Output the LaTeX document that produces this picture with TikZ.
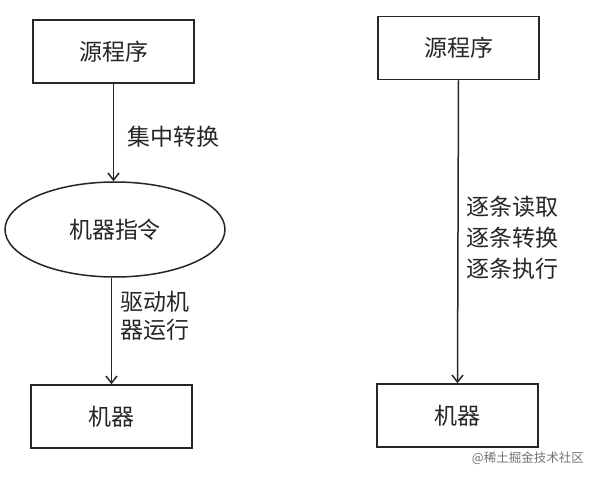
\documentclass[tikz,border=0pt]{standalone}
\usepackage{fontspec}
\setmainfont{Noto Sans CJK SC}
\usetikzlibrary{arrows.meta,shapes.geometric}
\tikzset{
  boxnode/.style={draw=black!85, line width=1.5pt, minimum width=161pt, minimum height=63pt, inner sep=0pt, font=\fontsize{23}{26}\selectfont, text=black!85},
  ellnode/.style={ellipse, draw=black!85, line width=1.5pt, minimum width=220pt, minimum height=95pt, inner sep=0pt, font=\fontsize{23}{26}\selectfont, text=black!85},
  arr/.style={draw=black!85, line width=1.5pt, -{Straight Barb[length=7pt,width=11pt,line width=1.5pt]}},
  lbl/.style={inner sep=0pt, anchor=west, align=left, text=black!85},
}
\begin{document}
\begin{tikzpicture}[x=1pt,y=-1pt]
\useasboundingbox (0,0) rectangle (598,479);
\fill[white] (0,0) rectangle (598,479);
% left column
\node[boxnode] (tl) at (113.5,51.5) {源程序};
\node[ellnode] (ell) at (115,229.5) {机器指令};
\node[boxnode] (bl) at (111.5,416.5) {机器};
\draw[arr] (tl.south) -- (tl.south |- ell.north);
\draw[arr] (bl.north |- ell.south) -- (bl.north);
\node[lbl, font=\fontsize{23}{26}\selectfont] (l1) at (127,137) {集中转换};
\node[lbl, font=\fontsize{23}{28}\selectfont] (l2) at (120,316) {驱动机\\器运行};
% right column
\node[boxnode] (tr) at (458.5,48) {源程序};
\node[boxnode] (br) at (457.5,415.5) {机器};
\draw[arr] (tr.south) -- (br.north);
\node[lbl, font=\fontsize{23}{31}\selectfont] (r1) at (466,238) {逐条读取\\逐条转换\\逐条执行};
% watermark
\node[inner sep=0pt, anchor=east, text=black!55, font=\fontsize{12.5}{14}\selectfont] (wm) at (584,458) {@稀土掘金技术社区};
\end{tikzpicture}
\end{document}
